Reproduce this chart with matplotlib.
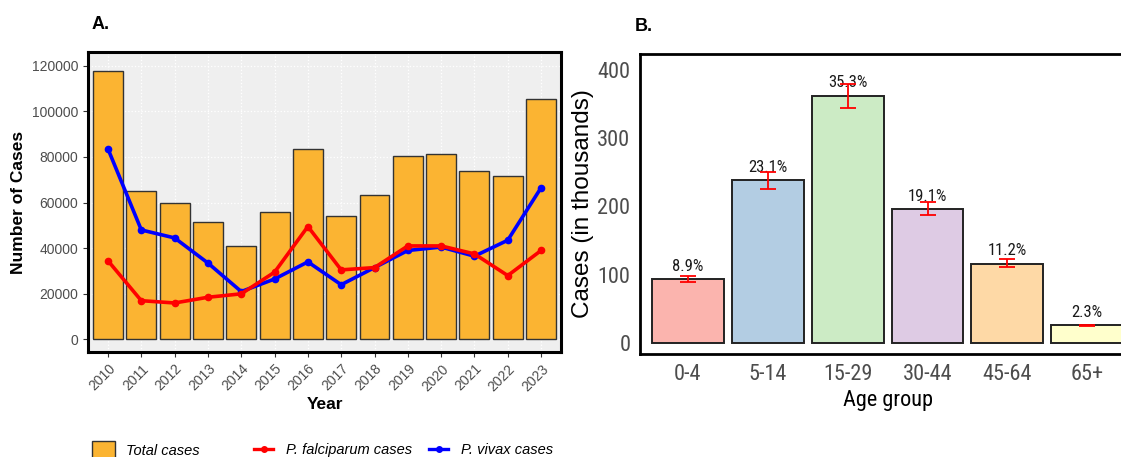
import matplotlib.pyplot as plt
from matplotlib.patches import Patch
from matplotlib.lines import Line2D

plt.rcParams['font.family'] = ['Liberation Sans', 'DejaVu Sans']
NARROW = ['Roboto Condensed', 'Liberation Sans', 'DejaVu Sans']

# Annual case counts
years = list(range(2010, 2024))
total_cases = [117500, 65000, 60000, 51500, 41000, 56000, 83500,
               54000, 63500, 80500, 81500, 74000, 71500, 105500]
falciparum = [34500, 17000, 16000, 18500, 20000, 29500, 49500,
              30500, 31500, 41000, 41000, 37500, 28000, 39000]
vivax = [83500, 48000, 44500, 33500, 21000, 26500, 34000,
         24000, 31500, 39000, 40500, 36500, 43500, 66500]

# Cases by age group, in thousands, with interval bounds
age_groups = ['0-4', '5-14', '15-29', '30-44', '45-64', '65+']
age_cases = [93, 238, 362, 196, 116, 25.5]
age_lower = [88.6, 225.8, 343.6, 186.8, 111, 24.5]
age_upper = [97.8, 249.8, 379, 206, 122.7, 26.5]
age_share = ['8.9%', '23.1%', '35.3%', '19.1%', '11.2%', '2.3%']

age_colors = ['#FBB4AE', '#B3CDE3', '#CCEBC5', '#DECBE4', '#FED9A6', '#FFFFCC']
bar_orange = '#FBB432'
grey_txt = '#4D4D4D'

fig = plt.figure(figsize=(11.21, 4.57), dpi=100)

# ---- panel A: yearly totals and species ----
axA = fig.add_axes([0.0785, 0.2298, 0.422, 0.6565])
axA.set_facecolor('#EFEFEF')
axA.bar(years, total_cases, width=0.9, color=bar_orange,
        edgecolor='#333333', linewidth=1.0, zorder=2)
axA.plot(years, vivax, color='blue', lw=2.6, marker='o', ms=4.5, zorder=3)
axA.plot(years, falciparum, color='red', lw=2.6, marker='o', ms=4.5, zorder=4)
axA.set_xlim(2009.4, 2023.6)
axA.set_ylim(-5480, 126000)
axA.set_xticks(years)
axA.set_xticklabels([str(y) for y in years], rotation=45, ha='right',
                    rotation_mode='anchor', color=grey_txt, fontsize=10)
axA.set_yticks(range(0, 120001, 20000))
axA.set_yticklabels([str(v) for v in range(0, 120001, 20000)],
                    color=grey_txt, fontsize=10)
axA.tick_params(length=3.5, color='#333333', width=0.8)
axA.grid(True, color='white', linestyle=':', linewidth=0.9, zorder=0)
axA.set_axisbelow(True)
for s in axA.spines.values():
    s.set_linewidth(2.2)
    s.set_color('black')
axA.set_xlabel('Year', fontsize=12.5, fontweight='bold', labelpad=2)
axA.set_ylabel('Number of Cases', fontsize=12.5, fontweight='bold', labelpad=4)

fig.text(0.082, 0.947, 'A.', fontsize=13, fontweight='bold', va='center')

# legends below panel A (fill and colour guides are separate)
fill_handle = [Patch(facecolor=bar_orange, edgecolor='#333333', linewidth=1.0)]
fig.legend(fill_handle, ['Total cases'], loc='center left',
           bbox_to_anchor=(0.082, 0.015), frameon=False, borderpad=0,
           borderaxespad=0, handlelength=1.6, handleheight=1.6,
           handletextpad=0.75, prop={'style': 'italic', 'size': 10.5})
line_handles = [Line2D([], [], color='red', lw=2.4, marker='o', ms=4),
                Line2D([], [], color='blue', lw=2.4, marker='o', ms=4)]
fig.legend(line_handles, ['P. falciparum cases', 'P. vivax cases'],
           loc='center left', bbox_to_anchor=(0.227, 0.015), ncol=2,
           frameon=False, borderpad=0, borderaxespad=0, handlelength=1.25,
           handletextpad=0.9, columnspacing=1.2,
           prop={'style': 'italic', 'size': 10.5})

# ---- panel B: cases by age group ----
axB = fig.add_axes([0.571, 0.2254, 0.4416, 0.6565])
xpos = list(range(len(age_groups)))
axB.bar(xpos, age_cases, width=0.9, color=age_colors,
        edgecolor='#222222', linewidth=1.4, zorder=2)
err_lo = [c - lo for c, lo in zip(age_cases, age_lower)]
err_hi = [hi - c for c, hi in zip(age_cases, age_upper)]
for x, c, lab in zip(xpos, age_cases, age_share):
    axB.annotate(lab, (x, c), xytext=(0, 4), textcoords='offset points',
                 ha='center', va='bottom', fontsize=12, family=NARROW,
                 color='#1A1A1A', zorder=3)
axB.errorbar(xpos, age_cases, yerr=[err_lo, err_hi], fmt='none',
             ecolor='red', elinewidth=1.3, capsize=5.8, capthick=1.3, zorder=4)
axB.set_xlim(-0.6, 5.6)
axB.set_ylim(-16.6, 423.5)
axB.set_xticks(xpos)
axB.set_xticklabels(age_groups, color=grey_txt, fontsize=16, family=NARROW)
axB.set_yticks([0, 100, 200, 300, 400])
axB.set_yticklabels(['0', '100', '200', '300', '400'], color=grey_txt,
                    fontsize=16, family=NARROW)
axB.tick_params(length=0, pad=7)
for s in axB.spines.values():
    s.set_linewidth(2.0)
    s.set_color('black')
axB.set_xlabel('Age group', fontsize=16, family=NARROW, labelpad=4)
axB.set_ylabel('Cases (in thousands)', fontsize=17.5, labelpad=2)

fig.text(0.566, 0.943, 'B.', fontsize=13, fontweight='bold', va='center')

fig.savefig('out.png', dpi=100)
